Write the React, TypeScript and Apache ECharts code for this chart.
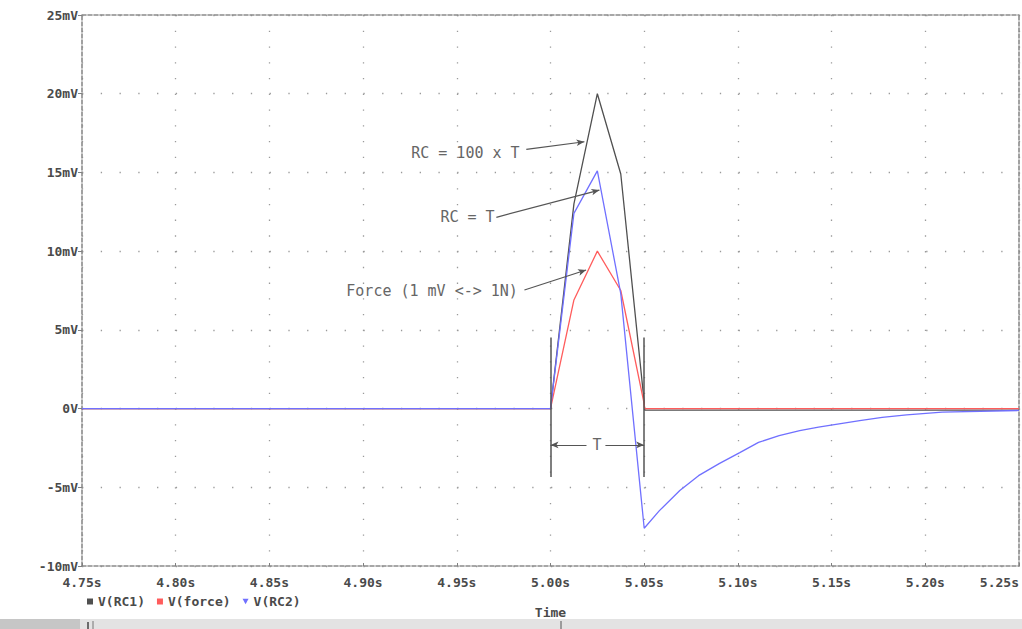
import { useEffect, useRef } from 'react';
import * as echarts from 'echarts';

// Axis ranges (time in s, voltage in mV)
const xMin = 4.75;
const xMax = 5.25;
const xStep = 0.05;
const yMin = -10;
const yMax = 25;
const yStep = 5;

const seriesNames = ['V(RC1)', 'V(force)', 'V(RC2)'];
const seriesColors = ['#505050', '#ff5c5c', '#7070ff'];

// V(RC1): RC = 100 x T
const rc1Points: [number, number][] = [
  [4.75, 0], [5.0, 0], [5.0125, 13], [5.025, 20], [5.0375, 14.9], [5.05, 0.4],
  [5.0502, -0.1], [5.25, -0.1],
];

// V(force)
const forcePoints: [number, number][] = [
  [4.75, 0], [5.0, 0], [5.0125, 6.9], [5.025, 10], [5.0375, 7.5], [5.05, 0.3],
  [5.0502, 0], [5.25, 0],
];

// V(RC2): RC = T
const rc2Points: [number, number][] = [
  [4.75, 0], [5.0, 0], [5.0125, 12.4], [5.025, 15.1], [5.0375, 7.3], [5.05, -7.6],
  [5.058, -6.5], [5.069, -5.2], [5.079, -4.26], [5.09, -3.5], [5.101, -2.8],
  [5.111, -2.15], [5.122, -1.72], [5.133, -1.4], [5.143, -1.18], [5.154, -0.97],
  [5.165, -0.76], [5.177, -0.56], [5.19, -0.4], [5.209, -0.23], [5.25, -0.12],
];

// Annotations (data coordinates)
const annotationLabels: { text: string; at: [number, number]; align: string }[] = [
  { text: 'RC = 100 x T', at: [4.9835, 16.25], align: 'right' },
  { text: 'RC = T', at: [4.9702, 12.19], align: 'right' },
  { text: 'Force (1 mV <-> 1N)', at: [4.9826, 7.49], align: 'right' },
  { text: 'T', at: [5.0248, -2.31], align: 'center' },
];
const arrowLines: [number, number][][] = [
  [[4.9871, 16.47], [5.0181, 16.95]],
  [[4.9711, 12.15], [5.0261, 13.88]],
  [[4.9861, 7.53], [5.019, 8.8]],
  [[5.0192, -2.31], [5.0, -2.31]],
  [[5.0293, -2.31], [5.05, -2.31]],
];
const bracketLines: [number, number][][] = [
  [[5.0, 4.51], [5.0, -4.35]],
  [[5.05, 4.51], [5.05, -4.35]],
];

const monoFont = '"DejaVu Sans Mono", "Liberation Mono", monospace';

export default function App() {
  const ref = useRef<HTMLDivElement>(null);

  useEffect(() => {
    if (!ref.current) return;
    const chart = echarts.init(ref.current, undefined, { renderer: 'svg' });

    const borderLine = { show: true, onZero: false, lineStyle: { color: '#8a8a8a', width: 1.6, type: [4, 2] } };

    const markLineData: any[] = [
      ...arrowLines.map(([a, b]) => [
        { coord: a, symbol: 'none' },
        { coord: b, symbol: 'arrow', symbolSize: [5, 8] },
      ]),
      ...bracketLines.map(([a, b]) => [
        { coord: a, symbol: 'none', lineStyle: { color: '#555', width: 1.5 } },
        { coord: b, symbol: 'none', lineStyle: { color: '#555', width: 1.5 } },
      ]),
    ];

    const option: any = {
      animation: false,
      backgroundColor: '#ffffff',
      grid: { left: 82, right: 2, top: 15, bottom: 63 },
      legend: {
        left: 82,
        top: 590,
        itemWidth: 6,
        itemHeight: 6,
        itemGap: 12,
        textStyle: { fontFamily: monoFont, fontSize: 13, fontWeight: 'bold', color: '#4a4a4a' },
        data: [
          { name: seriesNames[0], icon: 'rect' },
          { name: seriesNames[1], icon: 'rect' },
          { name: seriesNames[2], icon: 'path://M0,0L10,0L5,9Z' },
        ],
      },
      xAxis: [
        {
          type: 'value',
          min: xMin,
          max: xMax,
          interval: xStep,
          name: 'Time',
          nameLocation: 'middle',
          nameGap: 40,
          nameTextStyle: { fontFamily: monoFont, fontSize: 13, fontWeight: 'bold', color: '#4a4a4a' },
          axisLine: borderLine,
          axisTick: { show: true, inside: true, length: 3, lineStyle: { color: '#808080' } },
          axisLabel: {
            fontFamily: monoFont,
            fontSize: 13,
            fontWeight: 'bold',
            color: '#4a4a4a',
            margin: 10,
            alignMaxLabel: 'right',
            formatter: (v: number) => v.toFixed(2) + 's',
          },
          splitLine: { show: true, lineStyle: { color: '#9a9a9a', width: 1.3, type: [1.3, 14.44] } },
        },
        {
          type: 'value',
          position: 'top',
          min: xMin,
          max: xMax,
          interval: xStep,
          axisLine: borderLine,
          axisTick: { show: false },
          axisLabel: { show: false },
          splitLine: { show: false },
        },
      ],
      yAxis: [
        {
          type: 'value',
          min: yMin,
          max: yMax,
          interval: yStep,
          axisLine: borderLine,
          axisTick: { show: true, length: 4, lineStyle: { color: '#808080' } },
          axisLabel: {
            fontFamily: monoFont,
            fontSize: 13,
            fontWeight: 'bold',
            color: '#4a4a4a',
            margin: 4,
            formatter: (v: number) => (v === 0 ? '0V' : v + 'mV'),
          },
          splitLine: { show: true, lineStyle: { color: '#9a9a9a', width: 1.3, type: [1.3, 17.46] } },
        },
        {
          type: 'value',
          position: 'right',
          min: yMin,
          max: yMax,
          interval: yStep,
          axisLine: borderLine,
          axisTick: { show: false },
          axisLabel: { show: false },
          splitLine: { show: false },
        },
      ],
      series: [
        {
          name: seriesNames[0],
          type: 'line',
          data: rc1Points,
          symbol: 'none',
          color: seriesColors[0],
          lineStyle: { width: 1.3, color: seriesColors[0] },
          z: 2,
          markLine: {
            silent: true,
            animation: false,
            symbol: ['none', 'arrow'],
            symbolSize: 7,
            label: { show: false },
            emphasis: { disabled: true },
            lineStyle: { color: '#555', width: 1.2, type: 'solid' },
            data: markLineData,
          },
        },
        {
          name: seriesNames[1],
          type: 'line',
          data: forcePoints,
          symbol: 'none',
          color: seriesColors[1],
          lineStyle: { width: 1.3, color: seriesColors[1] },
          z: 3,
        },
        {
          name: seriesNames[2],
          type: 'line',
          data: rc2Points,
          symbol: 'none',
          color: seriesColors[2],
          lineStyle: { width: 1.3, color: seriesColors[2] },
          z: 4,
        },
      ],
    };

    chart.setOption(option);

    const texts = annotationLabels.map((a) => {
      const p = chart.convertToPixel({ gridIndex: 0 } as any, a.at) as number[];
      return {
        type: 'text',
        x: p[0],
        y: p[1],
        z: 10,
        silent: true,
        style: {
          text: a.text,
          fill: '#666',
          fontFamily: monoFont,
          fontSize: 15,
          align: a.align,
          verticalAlign: 'middle',
        },
      };
    });

    const scrollbar = [
      { type: 'rect', shape: { x: 0, y: 619, width: 1022, height: 10 }, style: { fill: '#e3e3e3' }, silent: true },
      { type: 'rect', shape: { x: 0, y: 619, width: 80, height: 10 }, style: { fill: '#c6c6c6' }, silent: true },
      { type: 'line', shape: { x1: 88, y1: 622, x2: 88, y2: 629 }, style: { stroke: '#444', lineWidth: 1.5 }, silent: true },
      { type: 'line', shape: { x1: 93, y1: 621, x2: 93, y2: 629 }, style: { stroke: '#777', lineWidth: 1 }, silent: true },
      { type: 'line', shape: { x1: 561, y1: 621, x2: 561, y2: 629 }, style: { stroke: '#555', lineWidth: 1 }, silent: true },
    ];

    chart.setOption({ graphic: [...texts, ...scrollbar] });

    return () => {
      chart.dispose();
    };
  }, []);

  return (
    <div
      ref={ref}
      style={{ position: 'absolute', left: 0, top: 0, width: 1022, height: 629, background: '#fff' }}
    />
  );
}
